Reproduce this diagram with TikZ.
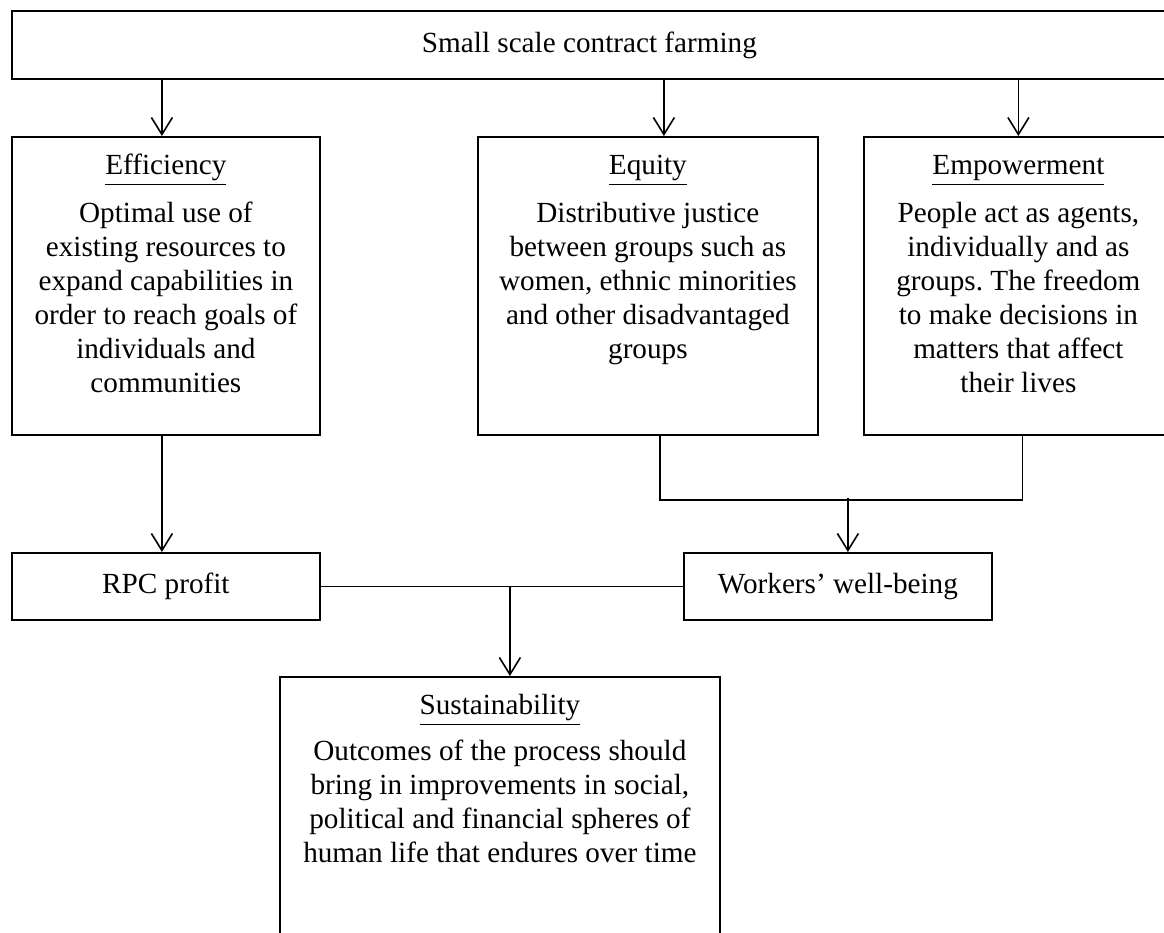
\documentclass[tikz,border=0pt]{standalone}
\usepackage{fontspec}
\setmainfont{Liberation Serif}
\frenchspacing
\usetikzlibrary{arrows.meta,positioning}

\begin{document}
\begin{tikzpicture}[
    x=0.5pt,y=-0.5pt,
    font=\fontsize{14.6pt}{17pt}\selectfont,
    bx/.style={draw,line width=0.9pt,inner sep=0pt,anchor=north west,align=center},
    tallbx/.style={draw,line width=0.9pt,inner sep=0pt,anchor=north west,text height=19pt,text depth=#1},
    arr/.style={-{Straight Barb[length=8.5pt,width=10.5pt]},line width=0.8pt},
    ln/.style={line width=0.8pt}
  ]
  \useasboundingbox (0,0) rectangle (1164,933);

  \node[bx,minimum width=577.5pt,minimum height=34pt] (root) at (11,10) {Small scale contract farming};

  \node[tallbx=130pt,minimum width=154pt] (eff) at (11,136)
    {\begin{tabular}[t]{@{}c@{}}\underline{Efficiency}\\[7pt] Optimal use of\\ existing resources to\\ expand capabilities in\\ order to reach goals of\\ individuals and\\ communities\end{tabular}};
  \node[tallbx=130pt,minimum width=170pt] (equ) at (477,136)
    {\begin{tabular}[t]{@{}c@{}}\underline{Equity}\\[7pt] Distributive justice\\ between groups such as\\ women, ethnic minorities\\ and other disadvantaged\\ groups\end{tabular}};
  \node[tallbx=130pt,minimum width=154.5pt] (emp) at (863,136)
    {\begin{tabular}[t]{@{}c@{}}\underline{Empowerment}\\[7pt] People act as agents,\\ individually and as\\ groups. The freedom\\ to make decisions in\\ matters that affect\\ their lives\end{tabular}};

  \node[bx,minimum width=154pt,minimum height=33.5pt] (rpc) at (11,552) {RPC profit};
  \node[bx,minimum width=154pt,minimum height=33.5pt] (wb) at (683,552) {Workers' well-being};

  \node[tallbx=121pt,minimum width=220pt] (sus) at (279,676)
    {\begin{tabular}[t]{@{}c@{}}\underline{Sustainability}\\[6pt] Outcomes of the process should\\ bring in improvements in social,\\ political and financial spheres of\\ human life that endures over time\end{tabular}};

  % from the top box
  \foreach \n/\dx in {eff/-2pt,equ/8pt,emp/0pt}{
    \coordinate (t) at ([xshift=\dx]\n.north);
    \draw[arr] (root.south -| t) -- (t);
  }

  \draw[arr] ([xshift=-2pt]eff.south) -- ([xshift=-2pt]rpc.north);

  % equity and empowerment join
  \draw[ln] ([xshift=6pt]equ.south) -- ++(0,64) -| ([xshift=2pt]emp.south);
  \coordinate (jn) at ([xshift=5pt,yshift=27pt]wb.north);
  \draw[arr] (jn) -- (jn |- wb.north);

  % profit and well-being join
  \draw[ln] (rpc.east) -- (wb.west);
  \coordinate (st) at ([xshift=5pt]sus.north);
  \draw[arr] (st |- rpc.east) -- (st);
\end{tikzpicture}
\end{document}
